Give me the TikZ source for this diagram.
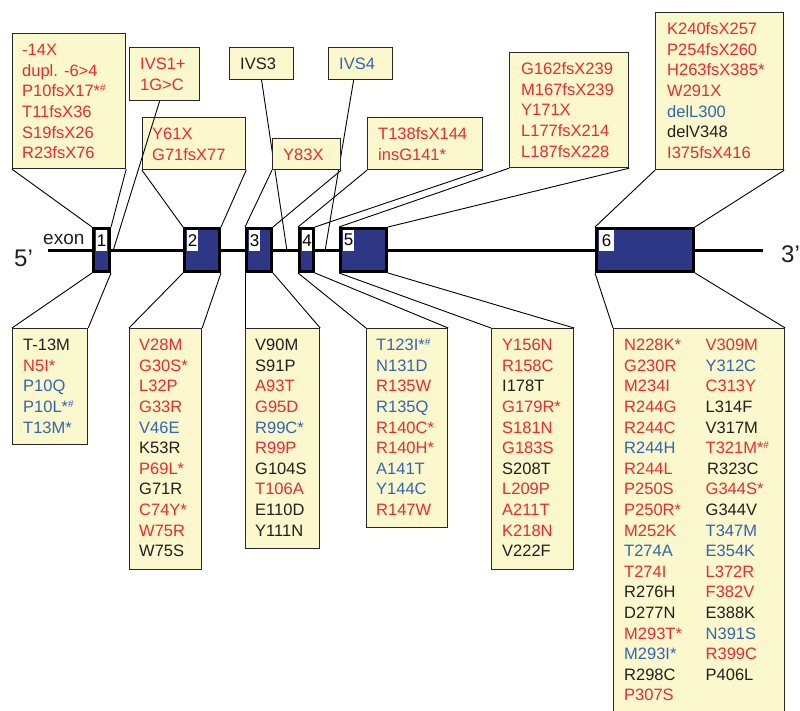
\documentclass[tikz,border=0pt]{standalone}
\usepackage{fontspec}
\setmainfont{Liberation Sans}
\usetikzlibrary{backgrounds}
\definecolor{mred}{RGB}{236,42,52}
\definecolor{mblue}{RGB}{52,101,175}
\definecolor{mblack}{RGB}{35,31,32}
\definecolor{byellow}{RGB}{250,248,204}
\definecolor{boxline}{RGB}{40,40,40}
\definecolor{exfill}{RGB}{46,54,134}
\newcommand\mR[1]{\textcolor{mred}{#1}}
\newcommand\mB[1]{\textcolor{mblue}{#1}}
\newcommand\mK[1]{\textcolor{mblack}{#1}}
\newcommand\hsh{\raisebox{5pt}{\fontsize{10}{10}\selectfont\#}}
\newcommand\fst{\rule{0pt}{12pt}}
\tikzset{
  mbox/.style={draw=boxline, line width=1.2, fill=byellow, inner sep=0, anchor=north west},
  mtxt/.style={inner sep=0, anchor=north west, align=left, font=\fontsize{16.5}{20.6}\selectfont, text=mblack},
  exonbox/.style={draw=black, fill=exfill, line width=3, inner sep=0},
  exnum/.style={fill=white, inner sep=0, anchor=north west, minimum width=11, minimum height=21, font=\fontsize{17}{17}\selectfont},
  conn/.style={line width=0.9, draw=black},
}
\begin{document}
\begin{tikzpicture}[x=1pt,y=-1pt]
\useasboundingbox (0,0) rectangle (800,711);

% gene line coordinates
\coordinate (L5) at (48,251);
\coordinate (L3) at (763,251);
\coordinate (i1) at (113,251);
\coordinate (i3) at (287,251);
\coordinate (i4) at (325,251);

% exons
\node[exonbox, minimum width=16, minimum height=43] (e1) at (101.5,250) {};
\node[exonbox, minimum width=35, minimum height=43] (e2) at (202,250) {};
\node[exonbox, minimum width=25, minimum height=43] (e3) at (259,250) {};
\node[exonbox, minimum width=14, minimum height=43] (e4) at (306.5,250) {};
\node[exonbox, minimum width=46, minimum height=43] (e5) at (363.5,250) {};
\node[exonbox, minimum width=97, minimum height=43] (e6) at (645,250) {};
\node[exnum] (n1) at ([shift={(4,2.5)}]e1.north west) {1};
\node[exnum] (n2) at ([shift={(4,2.5)}]e2.north west) {2};
\node[exnum] (n3) at ([shift={(4,2.5)}]e3.north west) {3};
\node[exnum, minimum width=10] (n4) at ([shift={(4,2.5)}]e4.north west) {4};
\node[exnum] (n5) at ([shift={(4,2.5)}]e5.north west) {5};
\node[exnum, minimum width=15] (n6) at ([shift={(4,2.5)}]e6.north west) {6};

\node[anchor=base west, inner sep=0, font=\fontsize{19}{19}\selectfont, text=mblack] (exl) at (43,245) {exon};
\node[anchor=base west, inner sep=0, font=\fontsize{24}{24}\selectfont, text=mblack] (p5) at (14,267) {5’};
\node[anchor=base west, inner sep=0, font=\fontsize{24}{24}\selectfont, text=mblack] (p3) at (781,263) {3’};

% boxes
\node[mbox, minimum width=113, minimum height=135] (bA) at (12,33) {};
\node[mbox, minimum width=70, minimum height=53] (bI1) at (129,47) {};
\node[mbox, minimum width=103, minimum height=52] (bY61) at (142,117) {};
\node[mbox, minimum width=64, minimum height=32] (bI3) at (229,47) {};
\node[mbox, minimum width=64, minimum height=32] (bI4) at (328,47) {};
\node[mbox, minimum width=68, minimum height=31] (bY83) at (272,138) {};
\node[mbox, minimum width=115, minimum height=52] (bT138) at (367,117) {};
\node[mbox, minimum width=119, minimum height=115] (bG162) at (509,52) {};
\node[mbox, minimum width=128, minimum height=157] (bK240) at (655,12) {};
\node[mbox, minimum width=75, minimum height=116] (b1) at (12,328) {};
\node[mbox, minimum width=72, minimum height=241] (b2) at (129,328) {};
\node[mbox, minimum width=74, minimum height=220] (b3) at (245,328) {};
\node[mbox, minimum width=81, minimum height=199] (b4) at (366,328) {};
\node[mbox, minimum width=82, minimum height=241] (b5) at (491,328) {};
\node[mbox, minimum width=171, minimum height=400] (b6) at (613,328) {};

% texts
\node[mtxt, text=mred] (tA) at ([shift={(10,10.5)}]bA.north west)
  {\fst -14X\\dupl. -6>4\\P10fsX17*\hsh\\T11fsX36\\S19fsX26\\R23fsX76};
\node[mtxt, text=mred] (tI1) at ([shift={(11,10.5)}]bI1.north west)
  {\fst IVS1+\\1G>C};
\node[mtxt, text=mred] (tY61) at ([shift={(10,10.5)}]bY61.north west)
  {\fst Y61X\\G71fsX77};
\node[mtxt, text=mblack] (tI3) at ([shift={(11,10.5)}]bI3.north west) {\fst IVS3};
\node[mtxt, text=mblue] (tI4) at ([shift={(11,10.5)}]bI4.north west) {\fst IVS4};
\node[mtxt, text=mred] (tY83) at ([shift={(11,10.5)}]bY83.north west) {\fst Y83X};
\node[mtxt, text=mred] (tT138) at ([shift={(11,10.5)}]bT138.north west)
  {\fst T138fsX144\\insG141*};
\node[mtxt, text=mred] (tG162) at ([shift={(12,10.5)}]bG162.north west)
  {\fst G162fsX239\\M167fsX239\\Y171X\\L177fsX214\\L187fsX228};
\node[mtxt] (tK240) at ([shift={(12,10.5)}]bK240.north west)
  {\fst\mR{K240fsX257}\\\mR{P254fsX260}\\\mR{H263fsX385*}\\\mR{W291X}\\\mB{delL300}\\\mK{delV348}\\\mR{I375fsX416}};

\node[mtxt] (t1) at ([shift={(11,10.5)}]b1.north west)
  {\fst\mK{T-13M}\\\mR{N5I*}\\\mB{P10Q}\\\mB{P10L*\hsh}\\\mB{T13M*}};
\node[mtxt] (t2) at ([shift={(10,10.5)}]b2.north west)
  {\fst\mR{V28M}\\\mR{G30S*}\\\mR{L32P}\\\mR{G33R}\\\mB{V46E}\\\mK{K53R}\\\mR{P69L*}\\\mK{G71R}\\\mR{C74Y*}\\\mR{W75R}\\\mK{W75S}};
\node[mtxt] (t3) at ([shift={(10,10.5)}]b3.north west)
  {\fst\mK{V90M}\\\mK{S91P}\\\mR{A93T}\\\mR{G95D}\\\mB{R99C*}\\\mR{R99P}\\\mK{G104S}\\\mR{T106A}\\\mK{E110D}\\\mK{Y111N}};
\node[mtxt] (t4) at ([shift={(10,10.5)}]b4.north west)
  {\fst\mB{T123I*\hsh}\\\mB{N131D}\\\mR{R135W}\\\mB{R135Q}\\\mR{R140C*}\\\mR{R140H*}\\\mB{A141T}\\\mB{Y144C}\\\mR{R147W}};
\node[mtxt] (t5) at ([shift={(11,10.5)}]b5.north west)
  {\fst\mR{Y156N}\\\mR{R158C}\\\mK{I178T}\\\mR{G179R*}\\\mR{S181N}\\\mR{G183S}\\\mK{S208T}\\\mR{L209P}\\\mR{A211T}\\\mR{K218N}\\\mK{V222F}};
\node[mtxt] (t6a) at ([shift={(11,10.5)}]b6.north west)
  {\fst\mR{N228K*}\\\mR{G230R}\\\mR{M234I}\\\mR{R244G}\\\mR{R244C}\\\mB{R244H}\\\mR{R244L}\\\mR{P250S}\\\mR{P250R*}\\\mR{M252K}\\\mB{T274A}\\\mR{T274I}\\\mK{R276H}\\\mK{D277N}\\\mR{M293T*}\\\mB{M293I*}\\\mK{R298C}\\\mR{P307S}};
\node[mtxt] (t6b) at ([shift={(92.5,10.5)}]b6.north west)
  {\fst\mR{V309M}\\\mB{Y312C}\\\mR{C313Y}\\\mK{L314F}\\\mK{V317M}\\\mR{T321M*\hsh}\\\hspace{1.5pt}\mK{R323C}\\\mR{G344S*}\\\mK{G344V}\\\mB{T347M}\\\mB{E354K}\\\mR{L372R}\\\mR{F382V}\\\mK{E388K}\\\mB{N391S}\\\mR{R399C}\\\mK{P406L}};

% gene line and connectors beneath
\begin{scope}[on background layer]
\draw[line width=3] (L5) -- (L3);
\draw[conn] (bA.south west) -- (e1.north west);
\draw[conn] (bA.south east) -- (e1.north east);
\draw[conn] (bY61.south west) -- (e2.north west);
\draw[conn] (bY61.south east) -- (e2.north east);
\draw[conn] (bI3.south) -- (i3);
\draw[conn] ([xshift=-7]bI4.south) -- (i4);
\draw[conn] (bY83.south west) -- (e3.north west);
\draw[conn] (bY83.south east) -- (e3.north east);
\draw[conn] (bT138.south west) -- (e4.north west);
\draw[conn] (bT138.south east) -- (e4.north east);
\draw[conn] (bG162.south west) -- (e5.north west);
\draw[conn] (bG162.south east) -- (e5.north east);
\draw[conn] (bK240.south west) -- (e6.north west);
\draw[conn] (bK240.south east) -- (e6.north east);
\draw[conn] (e1.south west) -- (b1.north west);
\draw[conn] (e1.south east) -- (b1.north east);
\draw[conn] (e2.south west) -- (b2.north west);
\draw[conn] (e2.south east) -- (b2.north east);
\draw[conn] (e3.south west) -- (b3.north west);
\draw[conn] (e3.south east) -- (b3.north east);
\draw[conn] (e4.south west) -- (b4.north west);
\draw[conn] (e4.south east) -- (b4.north east);
\draw[conn] (e5.south west) -- (b5.north west);
\draw[conn] (e5.south east) -- (b5.north east);
\draw[conn] (e6.south west) -- (b6.north west);
\draw[conn] (e6.south east) -- (b6.north east);
\end{scope}
% IVS1 connector passes over the Y61X box
\draw[conn] ([xshift=-5]bI1.south) -- (i1);
\end{tikzpicture}
\end{document}
